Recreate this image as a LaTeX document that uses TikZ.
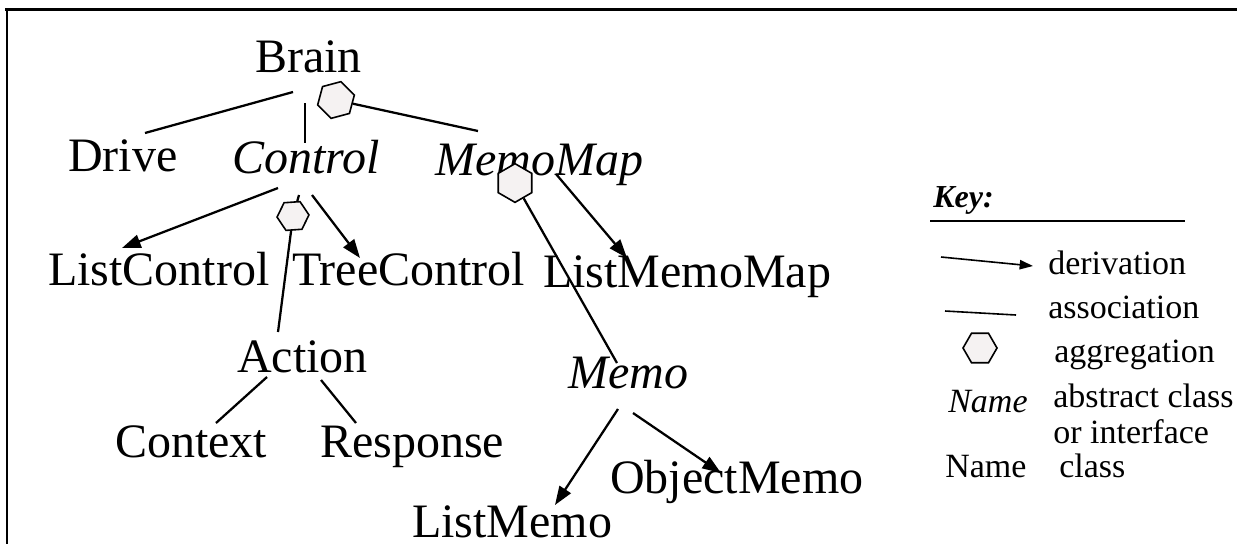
\documentclass[tikz,border=0pt]{standalone}
\usepackage{fontspec}
\setmainfont{Liberation Serif}
\usetikzlibrary{shapes.geometric,arrows.meta}
\definecolor{hexfill}{HTML}{F5F2F2}

\begin{document}
\begin{tikzpicture}[x=0.75pt,y=-0.75pt,
  cls/.style={anchor=base west,inner sep=0pt,font=\fontsize{36}{40}\selectfont},
  acls/.style={cls,font=\fontsize{36}{40}\selectfont\itshape},
  keytext/.style={anchor=base west,inner sep=0pt,font=\fontsize{25.5}{28}\selectfont},
  assoc/.style={line width=1.7pt},
  deriv/.style={line width=1.7pt,-{Triangle[length=14pt,width=10pt]}},
  aggr/.style={regular polygon,regular polygon sides=6,draw,line width=1.2pt,
               fill=hexfill,inner sep=0pt},
  keyline/.style={line width=1.2pt}
]
\useasboundingbox (0,0) rectangle (1237,544);

% frame
\draw[line width=2.25pt] (5,9.5) -- (1237,9.5);
\draw[line width=1.5pt] (6.5,9.5) -- (6.5,544);

% class names
\node[cls]  (brain)   at (255,72)  {Brain};
\node[cls]  (drive)   at (68,171)  {Drive};
\node[acls] (control) at (232,173) {Control};
\node[acls] (memomap) at (435,175) {MemoMap};
\node[cls]  (listcontrol) at (48,285)  {ListControl};
\node[cls]  (treecontrol) at (292,285) {TreeControl};
\node[cls]  (listmemomap) at (543,287) {ListMemoMap};
\node[cls]  (action)  at (237,372) {Action};
\node[acls] (memo)    at (568,388) {Memo};
\node[cls]  (context) at (115,457) {Context};
\node[cls]  (response) at (320,457) {Response};
\node[cls]  (objectmemo) at (610,493) {ObjectMemo};
\node[cls]  (listmemo) at (412,537) {ListMemo};

% connector end points
\coordinate (brainL)   at (293,92);
\coordinate (driveT)   at (145,133);
\coordinate (brainC)   at (305,103);
\coordinate (controlT) at (305,143);
\coordinate (memomapT) at (478,131);
\coordinate (controlL) at (278,188);
\coordinate (listcontrolT) at (122,248);
\coordinate (controlB) at (299,195);
\coordinate (controlR) at (312,195);
\coordinate (treecontrolT) at (360,258);
\coordinate (actionT)  at (278,332);
\coordinate (memomapR) at (556,174);
\coordinate (listmemomapT) at (627,258);
\coordinate (memoT)    at (617,363);
\coordinate (actionL)  at (267,377);
\coordinate (contextT) at (216,423);
\coordinate (actionR)  at (321,380);
\coordinate (responseT) at (356,423);
\coordinate (memoL)    at (618,409);
\coordinate (listmemoT) at (555,505);
\coordinate (memoR)    at (633,413);
\coordinate (objectmemoT) at (721,473);

% aggregation hexagons
\node[aggr,minimum size=28.5pt,rotate=15] (hexB) at (336,100) {};
\node[aggr,minimum size=24pt,rotate=4]  (hexC) at (293,216) {};
\node[aggr,minimum size=29pt,rotate=30] (hexM) at (515,183) {};

% associations
\draw[assoc] (brainL) -- (driveT);
\draw[assoc] (brainC) -- (controlT);
\draw[assoc] (hexB) -- (memomapT);
\draw[assoc] (controlB) -- (hexC);
\draw[assoc] (hexC) -- (actionT);
\draw[assoc] (hexM) -- (memoT);
\draw[assoc] (actionL) -- (contextT);
\draw[assoc] (actionR) -- (responseT);

% derivations
\draw[deriv] (controlL) -- (listcontrolT);
\draw[deriv] (controlR) -- (treecontrolT);
\draw[deriv] (memomapR) -- (listmemomapT);
\draw[deriv] (memoL) -- (listmemoT);
\draw[deriv] (memoR) -- (objectmemoT);

% key
\node[anchor=base west,inner sep=0pt,font=\fontsize{24}{26}\selectfont\bfseries\itshape]
  (key) at (933,207) {Key:};
\coordinate (keyL) at (930,221);
\coordinate (keyR) at (1185,221);
\draw[keyline] (keyL) -- (keyR);

\coordinate (derivA) at (941,257);
\coordinate (derivB) at (1033,266);
\draw[keyline,-{Triangle[length=10pt,width=7pt]}] (derivA) -- (derivB);
\node[keytext] (kderiv) at (1048,274) {derivation};

\coordinate (assocA) at (945,311);
\coordinate (assocB) at (1016,315);
\draw[keyline] (assocA) -- (assocB);
\node[keytext] (kassoc) at (1048,318) {association};

\node[aggr,minimum size=25.5pt] (khex) at (980,348) {};
\node[keytext] (kaggr) at (1054,362) {aggregation};

\node[keytext,font=\fontsize{25.5}{28}\selectfont\itshape] (kname1) at (948,412) {Name};
\node[keytext] (kabs1) at (1053,407) {abstract class};
\node[keytext] (kabs2) at (1053,443) {or interface};
\node[keytext] (kname2) at (945,477) {Name};
\node[keytext] (kclass) at (1059,477) {class};
\end{tikzpicture}
\end{document}
